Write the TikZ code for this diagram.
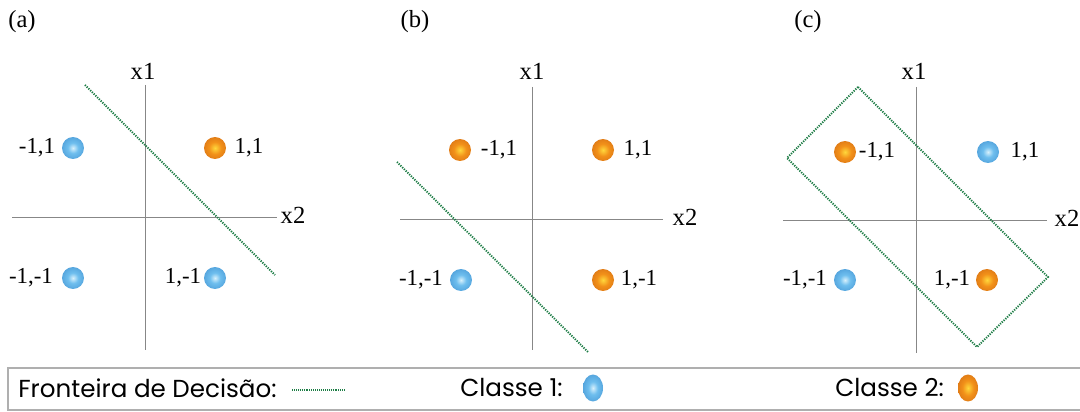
\documentclass[tikz,border=0pt]{standalone}
\usepackage{fontspec}
\setmainfont{Liberation Serif}
\newfontfamily\legendfont{Poppins}
\usetikzlibrary{shapes.geometric}
\definecolor{blueHi}{RGB}{215,240,252}
\definecolor{blueMid}{RGB}{110,190,238}
\definecolor{blueRim}{RGB}{60,140,205}
\definecolor{orangeHi}{RGB}{255,215,60}
\definecolor{orangeMid}{RGB}{242,145,25}
\definecolor{orangeRim}{RGB}{205,100,20}
\definecolor{linegreen}{RGB}{30,125,70}
\definecolor{axisgray}{RGB}{135,135,135}
\definecolor{framegray}{RGB}{175,175,175}
\pgfdeclareradialshading{blueball}{\pgfpoint{0bp}{0bp}}{color(0bp)=(blueHi); color(12bp)=(blueMid); color(40bp)=(blueRim); color(50bp)=(blueRim)}
\pgfdeclareradialshading{orangeball}{\pgfpoint{0bp}{0bp}}{color(0bp)=(orangeHi); color(14bp)=(orangeMid); color(40bp)=(orangeRim); color(50bp)=(orangeRim)}

\begin{document}
\begin{tikzpicture}[x=0.02cm,y=-0.02cm,
  axis/.style={axisgray,line width=0.5pt},
  boundary/.style={linegreen,line width=1.1pt,dash pattern=on 0.7pt off 0.7pt},
  classone/.style={circle,inner sep=0pt,minimum size=0.44cm,shading=blueball},
  classtwo/.style={circle,inner sep=0pt,minimum size=0.44cm,shading=orangeball},
  pt/.style={inner sep=0pt,font=\fontsize{13}{15}\selectfont},
  axlbl/.style={inner sep=0pt,font=\fontsize{14}{16}\selectfont},
  legtxt/.style={inner sep=0pt,anchor=west,font=\legendfont\fontsize{14}{16}\selectfont}]
\useasboundingbox (0,0) rectangle (1080,412);

% (a)
\node[axlbl] (tagA) at (22,22) {(a)};
\coordinate (aTop) at (145,85);
\coordinate (aBot) at (145,350);
\coordinate (aLeft) at (12,217);
\coordinate (aRight) at (277,217);
\draw[axis] (aTop) -- (aBot);
\draw[axis] (aLeft) -- (aRight);
\node[axlbl] (aXone) at (143,71) {x1};
\node[axlbl] (aXtwo) at (293,215) {x2};
\node[classone] (aMP) at (73,148) {};
\node[classtwo] (aPP) at (215,148) {};
\node[classone] (aMM) at (73,278) {};
\node[classone] (aPM) at (215,278) {};
\node[pt] at (37,148) {-1,1};
\node[pt] at (249,148) {1,1};
\node[pt] at (31,278) {-1,-1};
\node[pt] at (183,278) {1,-1};
\coordinate (aLineS) at (85,85);
\coordinate (aLineE) at (275,275);
\draw[boundary] (aLineS) -- (aLineE);

% (b)
\node[axlbl] (tagB) at (415,22) {(b)};
\coordinate (bTop) at (532,87);
\coordinate (bBot) at (532,350);
\coordinate (bLeft) at (400,219);
\coordinate (bRight) at (663,219);
\draw[axis] (bTop) -- (bBot);
\draw[axis] (bLeft) -- (bRight);
\node[axlbl] (bXone) at (532,71) {x1};
\node[axlbl] (bXtwo) at (685,217) {x2};
\node[classtwo] (bMP) at (460,150) {};
\node[classtwo] (bPP) at (603,150) {};
\node[classone] (bMM) at (461,280) {};
\node[classtwo] (bPM) at (603,280) {};
\node[pt] at (499,150) {-1,1};
\node[pt] at (638,150) {1,1};
\node[pt] at (421,280) {-1,-1};
\node[pt] at (639,280) {1,-1};
\coordinate (bLineS) at (397,162);
\coordinate (bLineE) at (588,352);
\draw[boundary] (bLineS) -- (bLineE);

% (c)
\node[axlbl] (tagC) at (808,22) {(c)};
\coordinate (cTop) at (916,87);
\coordinate (cBot) at (916,353);
\coordinate (cLeft) at (783,220);
\coordinate (cRight) at (1047,220);
\draw[axis] (cTop) -- (cBot);
\draw[axis] (cLeft) -- (cRight);
\node[axlbl] (cXone) at (914,71) {x1};
\node[axlbl] (cXtwo) at (1067,218) {x2};
\node[classtwo] (cMP) at (845,152) {};
\node[classone] (cPP) at (988,152) {};
\node[classone] (cMM) at (845,280) {};
\node[classtwo] (cPM) at (987,280) {};
\node[pt] at (877,152) {-1,1};
\node[pt] at (1025,152) {1,1};
\node[pt] at (805,280) {-1,-1};
\node[pt] at (952,280) {1,-1};
\coordinate (cBoxN) at (858,87);
\coordinate (cBoxW) at (787,158);
\coordinate (cBoxS) at (977,347);
\coordinate (cBoxE) at (1048,277);
\draw[boundary] (cBoxN) -- (cBoxW) -- (cBoxS) -- (cBoxE) -- cycle;

% legend
\draw[framegray,line width=0.6pt] (1080,368) -- (8,368) -- (8,410) -- (1080,410);
\node[legtxt] (legFront) at (18,388) {Fronteira de Decisão:};
\coordinate (legLineS) at (292,390);
\coordinate (legLineE) at (345,390);
\draw[linegreen,line width=0.8pt,dash pattern=on 0.5pt off 0.6pt] (legLineS) -- (legLineE);
\node[legtxt] (legOne) at (460,388) {Classe 1:};
\node[ellipse,inner sep=0pt,minimum width=0.4cm,minimum height=0.54cm,shading=blueball] (legBlue) at (593,388) {};
\node[legtxt] (legTwo) at (835,388) {Classe 2:};
\node[ellipse,inner sep=0pt,minimum width=0.4cm,minimum height=0.54cm,shading=orangeball] (legOrange) at (968,388) {};
\end{tikzpicture}
\end{document}
